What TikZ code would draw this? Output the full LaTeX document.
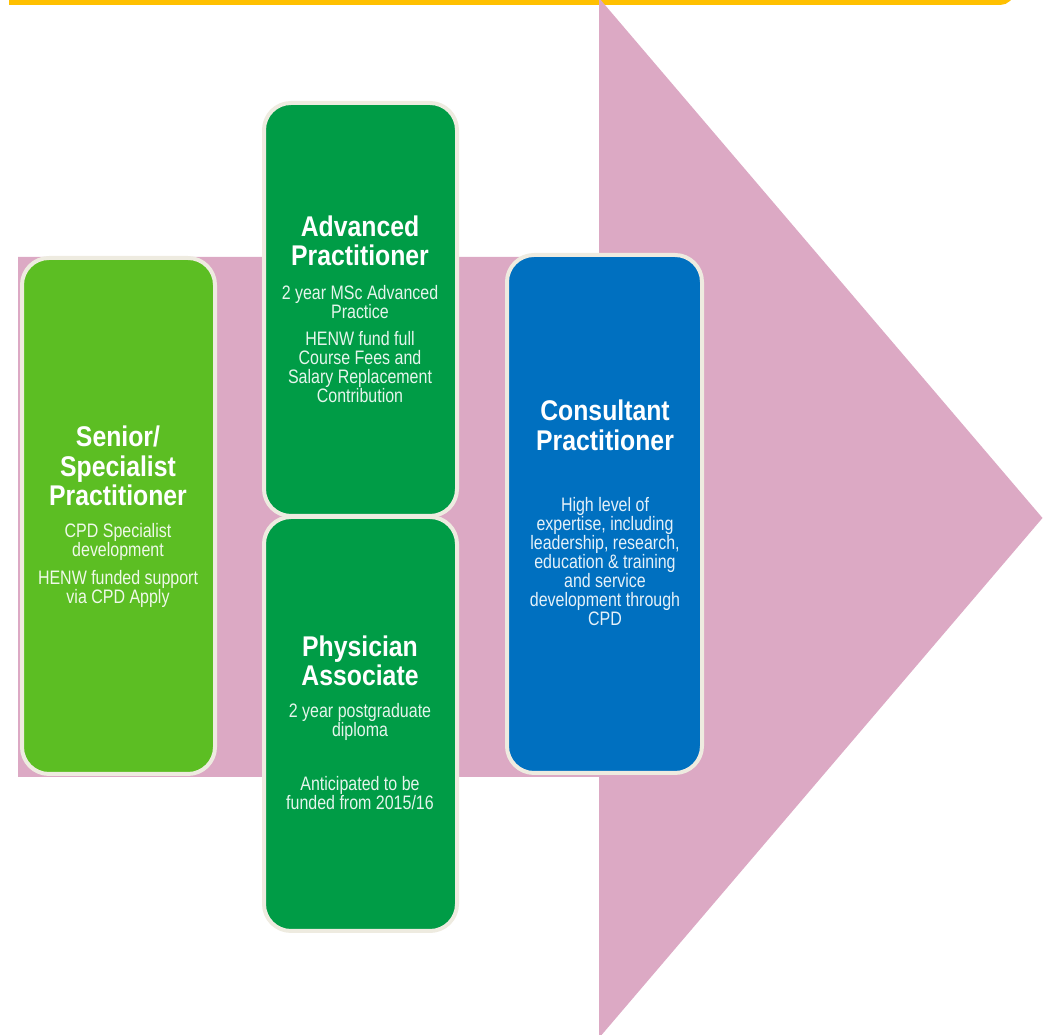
\documentclass[tikz,border=0pt]{standalone}
\usepackage{fontspec}
\setmainfont{Liberation Sans}
\newfontfamily\bodyfont[FakeStretch=0.82]{Liberation Sans}
\newfontfamily\titlefont[FakeStretch=0.87]{Liberation Sans}
\definecolor{pinkarr}{HTML}{DCA9C4}
\definecolor{ylw}{HTML}{FFC000}
\definecolor{lgreen}{HTML}{5CBE23}
\definecolor{dgreen}{HTML}{009C46}
\definecolor{blu}{HTML}{0070C0}
\definecolor{cream}{HTML}{EEEBE0}
\tikzset{
  card/.style={draw=cream, line width=4pt, rounded corners=27pt, inner sep=0pt, minimum width=193pt},
  ttl/.style={text=white, align=center, inner sep=0pt, font=\titlefont\bfseries\fontsize{28.5}{29.5}\selectfont},
  bodyg/.style={text=white!90!dgreen, align=center, inner sep=0pt, font=\bodyfont\fontsize{19.5}{19}\selectfont},
  bodyb/.style={text=white!90!blu, align=center, inner sep=0pt, font=\bodyfont\fontsize{19.5}{19}\selectfont}
}
\begin{document}
\begin{tikzpicture}[x=1pt,y=1pt]
\useasboundingbox (0,0) rectangle (1053,1035);
\clip (0,0) rectangle (1053,1035);
% frame edge at top
\draw[ylw, line width=5pt] (9,1032.5) -- (1000,1032.5) arc[start angle=-90, end angle=0, radius=12] -- (1012,1060);
% big arrow
\fill[pinkarr] (18,778) -- (599,778) -- (599,1037) -- (1042.5,517) -- (599,-3) -- (599,258) -- (18,258) -- cycle;
% cards
\node[card, fill=lgreen, minimum height=516pt] (sen) at (118.5,519) {};
\node[card, fill=dgreen, minimum height=413pt] (adv) at (360.5,725.5) {};
\node[card, fill=dgreen, minimum height=414pt] (phy) at (360.5,311) {};
\node[card, fill=blu, minimum height=518pt, minimum width=195pt] (con) at (604.5,521) {};
% Senior
\node[ttl] (senT) at (118,569) {Senior/\\Specialist\\Practitioner};
\node[bodyg, text=white!90!lgreen] (senB1) at (118,493.5) {CPD Specialist\\development};
\node[bodyg, text=white!90!lgreen] (senB2) at (118,446.5) {HENW funded support\\via CPD Apply};
% Advanced
\node[ttl] (advT) at (360,794) {Advanced\\Practitioner};
\node[bodyg] (advB1) at (360,732.5) {2 year MSc Advanced\\Practice};
\node[bodyg] (advB2) at (360,667.5) {HENW fund full\\Course Fees and\\Salary Replacement\\Contribution};
% Physician
\node[ttl] (phyT) at (360,374) {Physician\\Associate};
\node[bodyg] (phyB1) at (360,313.5) {2 year postgraduate\\diploma};
\node[bodyg] (phyB2) at (360,241.5) {Anticipated to be\\funded from 2015/16};
% Consultant
\node[ttl] (conT) at (605,609.5) {Consultant\\Practitioner};
\node[bodyb] (conB) at (605,473) {High level of\\expertise, including\\leadership, research,\\education \& training\\and service\\development through\\CPD};
\end{tikzpicture}
\end{document}
